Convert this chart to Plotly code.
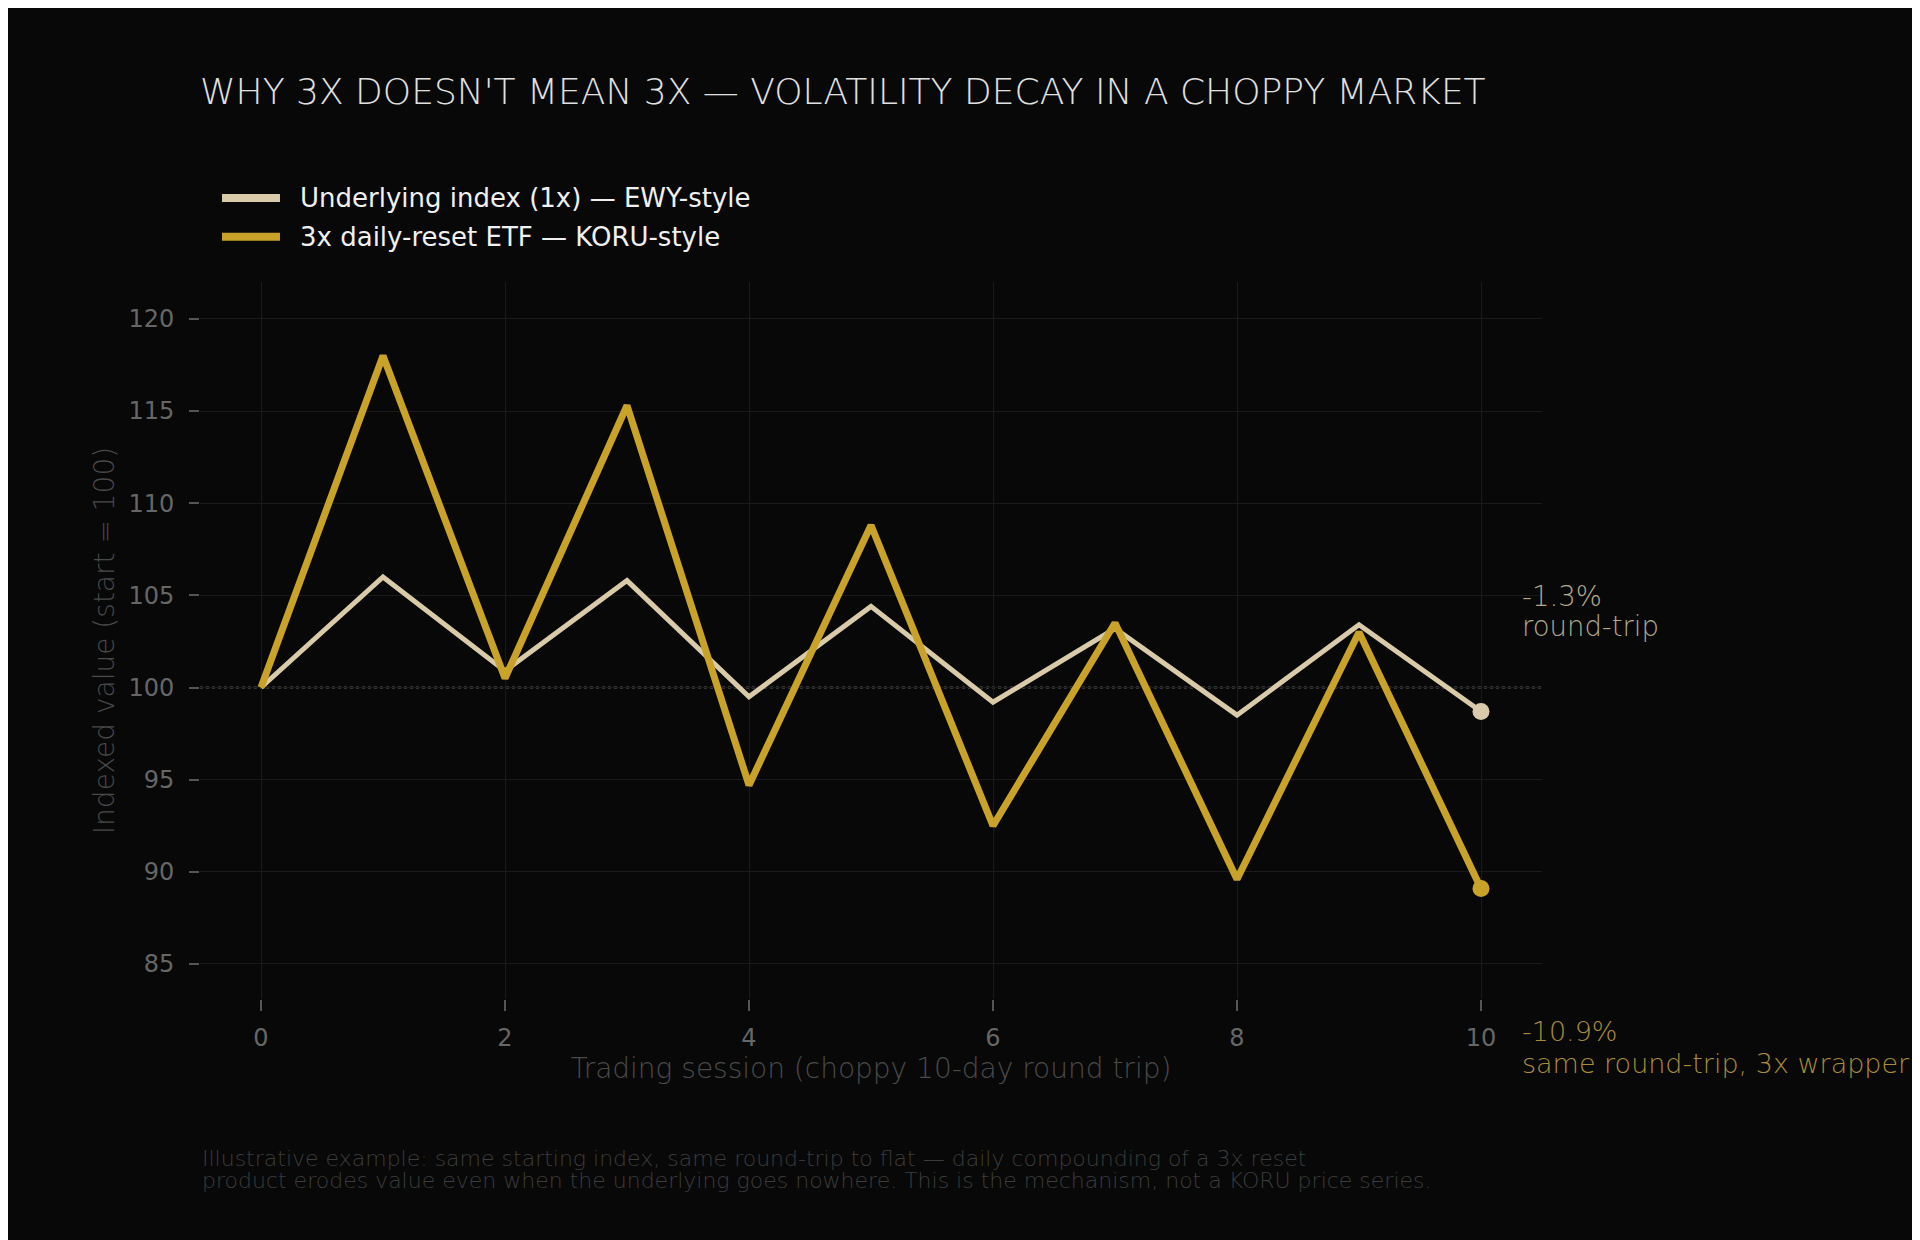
#!/usr/bin/env python3
"""
Volatility decay: 1x index vs 3x daily-reset ETF over a choppy 10-day round trip
"""

import plotly.graph_objects as go

# Data
sessions = [0, 1, 2, 3, 4, 5, 6, 7, 8, 9, 10]
underlying = [100.0, 106.0, 100.9, 105.8, 99.5, 104.4, 99.2, 103.2, 98.5, 103.4, 98.7]
leveraged = [100.0, 118.0, 100.5, 115.3, 94.7, 108.8, 92.5, 103.5, 89.6, 103.0, 89.1]

under_name = "Underlying index (1x) \u2014 EWY-style"
lev_name = "3x daily-reset ETF \u2014 KORU-style"

x_ticks = [0, 2, 4, 6, 8, 10]
y_ticks = [85, 90, 95, 100, 105, 110, 115, 120]

footnote = [
    "Illustrative example: same starting index, same round-trip to flat "
    "\u2014 daily compounding of a 3x reset",
    "product erodes value even when the underlying goes nowhere. "
    "This is the mechanism, not a KORU price series.",
]

BG = "#080808"
CREAM = "#d9cba9"
GOLD = "#c9a22a"
FONT = "DejaVu Sans"
THIN = "DejaVu Sans ExtraLight, DejaVu Sans"

under_ret = (underlying[-1] / underlying[0] - 1) * 100
lev_ret = (leveraged[-1] / leveraged[0] - 1) * 100


def add_text(fig, text, x, y, size, color, family=THIN):
    fig.add_annotation(x=x, y=y, xref="paper", yref="paper", xanchor="left",
                       yanchor="middle", showarrow=False, text=text,
                       font=dict(family=family, size=size, color=color, weight=200))


def make_figure():
    fig = go.Figure()

    fig.add_trace(go.Scatter(
        x=sessions, y=underlying, mode="lines", name=under_name,
        line=dict(color=CREAM, width=5)
    ))
    fig.add_trace(go.Scatter(
        x=sessions, y=leveraged, mode="lines", name=lev_name,
        line=dict(color=GOLD, width=7)
    ))
    # end-point dots
    fig.add_trace(go.Scatter(
        x=[sessions[-1]], y=[underlying[-1]], mode="markers", showlegend=False,
        marker=dict(color=CREAM, size=17)
    ))
    fig.add_trace(go.Scatter(
        x=[sessions[-1]], y=[leveraged[-1]], mode="markers", showlegend=False,
        marker=dict(color=GOLD, size=17)
    ))

    # flat reference at the starting value
    fig.add_hline(y=underlying[0], line=dict(color="#5a5a5a", width=2, dash="dot"),
                  layer="below")

    # hand-drawn legend (longer swatches than plotly's built-in legend)
    for name, color, ly in [(under_name, CREAM, 1.117), (lev_name, GOLD, 1.063)]:
        fig.add_shape(type="line", xref="paper", yref="paper",
                      x0=0.0164, x1=0.0596, y0=ly, y1=ly,
                      line=dict(color=color, width=8))
        fig.add_annotation(x=0.073, y=ly, xref="paper", yref="paper",
                           xanchor="left", yanchor="middle", showarrow=False,
                           text=name, font=dict(family=FONT, size=26, color="#f0f0f0"))

    # end labels
    add_text(fig, f"{under_ret:.1f}%", 0.9836, 0.562, 27.5, "#b3a88f")
    add_text(fig, "round-trip", 0.9836, 0.520, 27.5, "#b3a88f")
    add_text(fig, f"{lev_ret:.1f}%", 0.9836, -0.046, 27, "#a88c3a")
    add_text(fig, "same round-trip, 3x wrapper", 0.9836, -0.090, 27, "#a88c3a")

    # footnote
    add_text(fig, footnote[0], 0, -0.2218, 22, "#3c3c3c")
    add_text(fig, footnote[1], 0, -0.2538, 22, "#3c3c3c")

    fig.update_layout(
        width=1920, height=1240,
        paper_bgcolor=BG, plot_bgcolor=BG,
        margin=dict(l=192, r=386, t=274, b=249),
        font=dict(family=FONT, color="#6a6a6a", size=24),
        title=dict(
            text="WHY 3X DOESN'T MEAN 3X \u2014 VOLATILITY DECAY IN A CHOPPY MARKET",
            x=0, xref="paper", xanchor="left", y=1 - 83 / 1240, yref="container",
            yanchor="middle",
            font=dict(family=THIN, size=36, color="#e0e0e0", weight=200)
        ),
        showlegend=False,
    )

    fig.update_xaxes(
        range=[-0.5, 10.5], tickvals=x_ticks, showgrid=True, gridcolor="#1a1a1a",
        gridwidth=1, zeroline=False, showline=False,
        ticks="outside", ticklen=11, tickwidth=2, tickcolor="#555555",
        ticklabelstandoff=6,
        tickfont=dict(family=FONT, size=24, color="#666666"),
        title=dict(text="Trading session (choppy 10-day round trip)", standoff=7,
                   font=dict(family=THIN, size=28, color="#4a4a4a", weight=200))
    )
    fig.update_yaxes(
        range=[83.1, 122], tickvals=y_ticks, showgrid=True, gridcolor="#1a1a1a",
        gridwidth=1, zeroline=False, showline=False,
        ticks="outside", ticklen=10, tickwidth=2, tickcolor="#555555",
        ticklabelstandoff=10,
        tickfont=dict(family=FONT, size=24, color="#666666"),
        title=dict(text="Indexed value (start = 100)", standoff=5,
                   font=dict(family=THIN, size=28, color="#4a4a4a", weight=200))
    )
    return fig


if __name__ == "__main__":
    fig = make_figure()
    fig.write_html("out.html")
